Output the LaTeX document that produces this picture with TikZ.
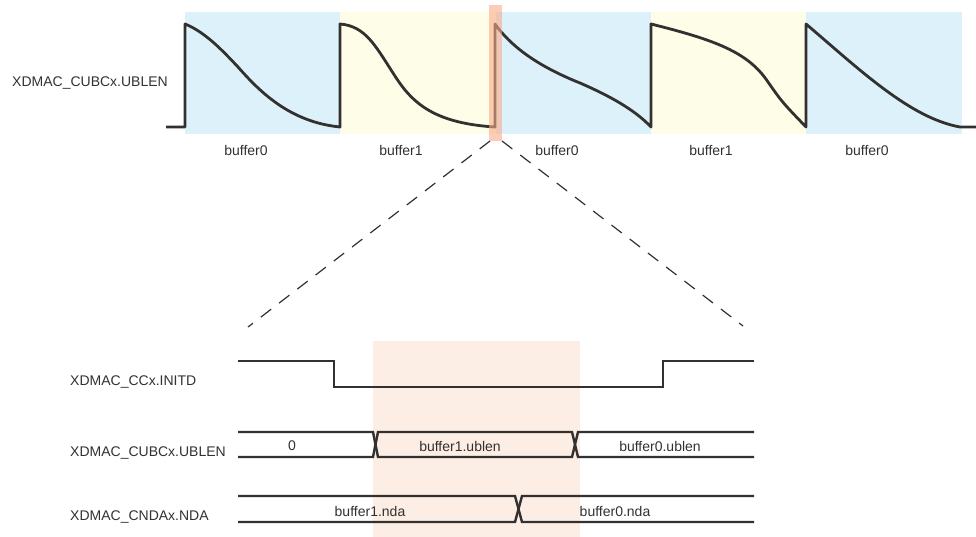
\documentclass[tikz,border=0pt]{standalone}
\usepackage{fontspec}
\setmainfont{Liberation Sans}
\usepackage{xcolor}
\usetikzlibrary{positioning}

\definecolor{bufblue}{RGB}{221,241,251}
\definecolor{bufyellow}{RGB}{253,253,232}
\definecolor{zoomstrip}{RGB}{248,170,135}
\definecolor{zoomarea}{RGB}{253,238,229}
\definecolor{wave}{RGB}{51,48,48}

\begin{document}
\begin{tikzpicture}[
    x=1pt,y=-1pt,
    lbl/.style={inner sep=0pt,font=\fontsize{14}{16}\selectfont,text=wave},
    siglbl/.style={lbl,anchor=west},
    wavepath/.style={draw=wave,line width=2.8pt,line join=round},
    sigpath/.style={draw=wave,line width=2.4pt,line join=miter},
    zoomline/.style={draw=wave,line width=1.2pt,dash pattern=on 13pt off 10pt}
]
\useasboundingbox (0,0) rectangle (976,537);
% buffer backgrounds
\fill[bufblue] (185,12) rectangle (340,134);
\fill[bufyellow] (340,12) rectangle (496,134);
\fill[bufblue] (496,12) rectangle (651,134);
\fill[bufyellow] (651,12) rectangle (806,134);
\fill[bufblue] (806,12) rectangle (962,134);
\fill[zoomarea] (373,341) rectangle (580,537);
% ublen waveform
\draw[wavepath] (166,127) -- (185,127) -- (185,24)
    .. controls (205,32) and (222,50) .. (238,67)
    .. controls (260,92) and (290,122) .. (340,127) -- (340,24)
    .. controls (365,26) and (375,45) .. (393,73)
    .. controls (410,100) and (430,123) .. (495,127) -- (495,24)
    .. controls (510,45) and (535,65) .. (580,83)
    .. controls (610,96) and (635,110) .. (651,127) -- (651,24)
    .. controls (715,40) and (748,52) .. (768,82)
    .. controls (782,102) .. (806,127) -- (806,24)
    .. controls (860,70) and (910,118) .. (960,127) -- (976,127);
% zoomed strip
\fill[zoomstrip,opacity=0.6] (489,5) rectangle (502,141);
\coordinate (zl) at (490,141);
\coordinate (zr) at (502,141);
\coordinate (zbl) at (248,327);
\coordinate (zbr) at (743,326);
\draw[zoomline] (zl) -- (zbl);
\draw[zoomline] (zr) -- (zbr);
% labels top
\node[siglbl] (ublentop) at (12,83) {XDMAC\_CUBCx.UBLEN};
\node[lbl] (buf0a) at (246,150) {buffer0};
\node[lbl] (buf1a) at (401,150) {buffer1};
\node[lbl] (buf0b) at (557,150) {buffer0};
\node[lbl] (buf1b) at (711,150) {buffer1};
\node[lbl] (buf0c) at (867,150) {buffer0};
% signal names
\node[siglbl] (initd) at (70,382) {XDMAC\_CCx.INITD};
\node[siglbl] (ublen) at (70,453) {XDMAC\_CUBCx.UBLEN};
\node[siglbl] (nda) at (70,517) {XDMAC\_CNDAx.NDA};
% initd
\draw[sigpath] (238,361) -- (334,361) -- (334,387) -- (663,387) -- (663,361) -- (754,361);
% ublen bus
\draw[sigpath] (238,432) -- (373,432) -- (378,457) -- (572,457) -- (578,432) -- (754,432);
\draw[sigpath] (238,457) -- (373,457) -- (378,432) -- (572,432) -- (578,457) -- (754,457);
\node[lbl] (ub0) at (292,446) {0};
\node[lbl] (ub1) at (460,446) {buffer1.ublen};
\node[lbl] (ub2) at (660,446) {buffer0.ublen};
% nda bus
\draw[sigpath] (238,496) -- (515,496) -- (522,522) -- (754,522);
\draw[sigpath] (238,522) -- (515,522) -- (522,496) -- (754,496);
\node[lbl] (nd1) at (370,511) {buffer1.nda};
\node[lbl] (nd0) at (615,511) {buffer0.nda};
\end{tikzpicture}
\end{document}
